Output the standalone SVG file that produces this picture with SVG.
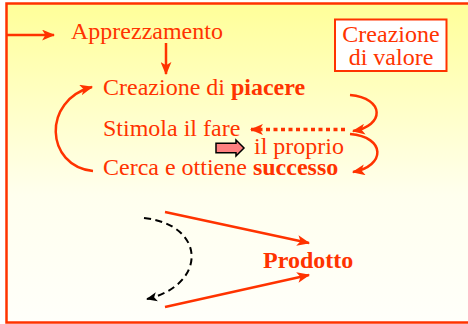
<svg xmlns="http://www.w3.org/2000/svg" width="468" height="324" viewBox="0 0 468 324">
<defs>
<linearGradient id="bg" x1="0" y1="0" x2="0" y2="1">
<stop offset="0" stop-color="#FFFF99"/>
<stop offset="0.6" stop-color="#FFFFEE"/>
<stop offset="1" stop-color="#FFFFFA"/>
</linearGradient>
<marker id="ar" viewBox="0 0 12 10" refX="11" refY="5" markerWidth="13" markerHeight="11" markerUnits="userSpaceOnUse" orient="auto">
<path d="M0,0 L12,5 L0,10 L3,5 z" fill="#FF3300"/>
</marker>
<marker id="ard" viewBox="0 0 12 10" refX="11" refY="5" markerWidth="13" markerHeight="12" markerUnits="userSpaceOnUse" orient="auto">
<path d="M0,0 L12,5 L0,10 L3,5 z" fill="#FF3300"/>
</marker>
<marker id="ab" viewBox="0 0 12 10" refX="11" refY="5" markerWidth="11" markerHeight="10" markerUnits="userSpaceOnUse" orient="auto">
<path d="M0,0 L12,5 L0,10 L3,5 z" fill="#000"/>
</marker>
<style>
.t{font-family:"Liberation Serif","Times New Roman",serif;font-size:24px;fill:#FF3300}
.b{font-weight:bold}
.ln{fill:none;stroke:#FF3300;stroke-width:2.5}
</style>
</defs>
<rect x="0" y="0" width="468" height="324" fill="#fff"/>
<rect x="6.5" y="3.5" width="470" height="319" fill="url(#bg)" stroke="#FF3300" stroke-width="2.5"/>

<g id="connectors">
<line class="ln" x1="6" y1="35" x2="54" y2="35" marker-end="url(#ar)"/>
<line class="ln" x1="166" y1="43" x2="166" y2="74" marker-end="url(#ar)"/>
<path class="ln" d="M93,171 C45,166 42,100 92,87" marker-end="url(#ar)"/>
<path class="ln" d="M350,95 C385,98 385,126 353,131" marker-end="url(#ar)"/>
<path class="ln" d="M350,134 C386,137 386,166 353,172" marker-end="url(#ar)"/>
<line x1="345" y1="129.5" x2="251" y2="129.5" stroke="#FF3300" stroke-width="3.5" stroke-dasharray="4 3.5" marker-end="url(#ard)"/>
<line class="ln" x1="165" y1="212" x2="309" y2="243" marker-end="url(#ar)"/>
<line class="ln" x1="165" y1="307" x2="309" y2="275" marker-end="url(#ar)"/>
<path d="M144,218 C207,225 207,285 147,299" fill="none" stroke="#000" stroke-width="2" stroke-dasharray="7 4.5" marker-end="url(#ab)"/>
</g>

<g id="apprezzamento"><text class="t" x="71" y="39">Apprezzamento</text></g>
<g id="creazione-valore">
<rect x="335" y="19.5" width="111.5" height="51.5" fill="#fff" stroke="#FF3300" stroke-width="2"/>
<text class="t" x="391" y="41.5" text-anchor="middle">Creazione</text>
<text class="t" x="391" y="64.5" text-anchor="middle">di valore</text>
</g>
<g id="piacere"><text class="t" x="103" y="95">Creazione di <tspan class="b">piacere</tspan></text></g>
<g id="stimola"><text class="t" x="103" y="136">Stimola il fare</text></g>
<g id="proprio">
<path d="M216,143.3 L236,143.3 L236,140 L244,148 L236,156 L236,152.7 L216,152.7 z" fill="#FF8080" stroke="#000" stroke-width="1.5" stroke-linejoin="miter"/>
<text class="t" x="254" y="154">il proprio</text>
</g>
<g id="successo"><text class="t" x="103" y="175">Cerca e ottiene <tspan class="b">successo</tspan></text></g>
<g id="prodotto"><text class="t b" x="263" y="268">Prodotto</text></g>
</svg>
